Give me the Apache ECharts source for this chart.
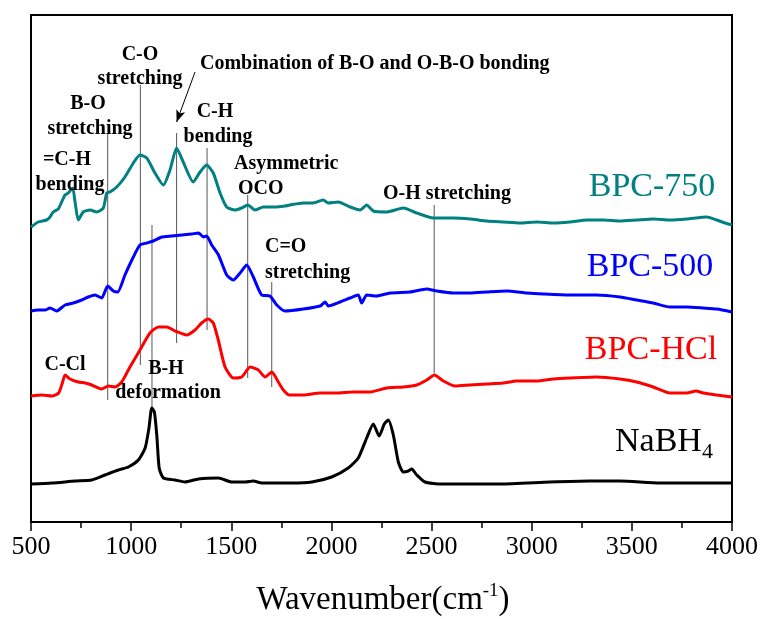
<!DOCTYPE html>
<html>
<head>
<meta charset="utf-8">
<script src="https://cdn.jsdelivr.net/npm/echarts@6/dist/echarts.min.js"></script>
<style>
  html, body { margin: 0; padding: 0; background: #fff; }
  #chart { width: 762px; height: 619px; }
</style>
</head>
<body>
<div id="chart"></div>
<script>
// wavenumber (cm-1), intensity (a.u., curves offset)
const bpc750 = [
  [500, 29.5], [536, 30.0], [578, 30.2], [595, 30.5], [611, 31.0], [636, 31.3], [653, 32.0],
  [670, 32.7], [686, 32.9], [708, 33.4], [720, 32.0], [736, 30.2], [761, 31.0], [795, 31.2],
  [828, 31.0], [861, 31.4], [878, 32.9], [894, 33.0], [928, 33.5], [969, 34.5], [1011, 35.9],
  [1044, 36.7], [1078, 36.4], [1119, 34.9], [1161, 33.7], [1194, 35.2], [1227, 37.4], [1260, 36.0],
  [1310, 34.0], [1344, 35.0], [1377, 35.7], [1410, 34.9], [1444, 32.9], [1477, 31.5], [1519, 31.2],
  [1552, 31.4], [1582, 31.7], [1618, 31.2], [1660, 31.5], [1718, 31.5], [1768, 31.6], [1793, 31.7],
  [1860, 31.9], [1910, 31.9], [1959, 32.2], [1984, 31.9], [2034, 32.0], [2093, 31.5], [2143, 31.2],
  [2176, 31.7], [2209, 31.1], [2276, 31.0], [2359, 31.4], [2426, 30.9], [2509, 30.4], [2609, 30.4],
  [2692, 30.3], [2775, 30.1], [2858, 30.0], [2942, 29.9], [3025, 30.0], [3108, 29.9], [3191, 30.0],
  [3275, 30.2], [3358, 30.2], [3441, 30.1], [3524, 30.2], [3607, 30.3], [3690, 30.2], [3774, 30.3],
  [3874, 30.5], [3924, 30.2], [3965, 29.9], [4000, 29.7]
];
const bpc500 = [
  [500, 21.1], [536, 21.2], [570, 21.2], [595, 21.4], [628, 21.1], [670, 21.7], [711, 21.9],
  [753, 22.2], [786, 22.5], [820, 22.7], [853, 22.4], [883, 23.6], [911, 23.1], [933, 23.0],
  [969, 24.7], [1011, 26.5], [1044, 27.7], [1078, 27.9], [1111, 28.1], [1153, 28.5], [1203, 28.6],
  [1253, 28.7], [1302, 28.8], [1336, 28.9], [1361, 28.5], [1377, 28.6], [1402, 27.7], [1436, 26.7],
  [1477, 24.7], [1510, 24.2], [1544, 24.9], [1577, 25.7], [1610, 24.5], [1652, 22.7], [1693, 22.6],
  [1727, 21.7], [1768, 21.1], [1860, 21.3], [1944, 21.6], [1969, 22.0], [1984, 21.6], [2043, 22.0],
  [2093, 22.4], [2134, 22.7], [2151, 21.9], [2176, 22.7], [2226, 22.6], [2293, 22.9], [2392, 23.0],
  [2476, 23.3], [2526, 23.1], [2609, 22.9], [2692, 22.9], [2775, 23.0], [2875, 23.1], [2975, 22.9],
  [3058, 22.8], [3191, 22.7], [3324, 22.7], [3441, 22.5], [3524, 22.2], [3607, 21.9], [3690, 21.5],
  [3774, 21.5], [3857, 21.4], [3924, 21.3], [4000, 21.0]
];
const bpcHCl = [
  [500, 12.6], [555, 12.7], [605, 12.6], [638, 12.9], [658, 14.0], [670, 14.7], [695, 14.3],
  [736, 14.0], [770, 13.9], [803, 13.7], [853, 13.3], [886, 13.6], [920, 13.5], [953, 14.0],
  [994, 15.5], [1044, 17.2], [1094, 18.9], [1136, 19.5], [1178, 19.5], [1219, 19.1], [1277, 18.7],
  [1319, 19.2], [1352, 19.9], [1385, 20.3], [1410, 19.9], [1435, 18.2], [1469, 15.5], [1510, 14.4],
  [1552, 14.5], [1594, 15.5], [1635, 15.2], [1669, 14.5], [1702, 15.0], [1735, 14.0], [1760, 13.2],
  [1790, 12.7], [1860, 12.7], [1943, 12.9], [2026, 12.9], [2109, 13.0], [2193, 13.0], [2276, 13.4],
  [2359, 13.5], [2426, 13.7], [2476, 14.2], [2514, 14.7], [2559, 14.1], [2617, 13.6], [2692, 13.7],
  [2775, 13.8], [2858, 13.9], [2925, 14.1], [3025, 14.1], [3108, 14.3], [3191, 14.4], [3324, 14.5],
  [3441, 14.3], [3524, 14.0], [3607, 13.5], [3690, 12.9], [3774, 12.9], [3820, 13.1], [3857, 12.9],
  [3924, 12.7], [4000, 12.5]
];
const nabh4 = [
  [500, 3.8], [605, 3.9], [720, 4.1], [803, 4.2], [869, 4.7], [936, 5.2], [986, 5.5], [1036, 6.2],
  [1070, 7.4], [1089, 9.4], [1103, 11.4], [1116, 11.0], [1128, 8.7], [1140, 5.4], [1161, 4.4],
  [1219, 4.2], [1269, 4.0], [1336, 4.3], [1436, 4.4], [1502, 4.0], [1569, 4.0], [1610, 4.1],
  [1652, 3.9], [1802, 3.9], [1902, 4.0], [2001, 4.5], [2084, 5.4], [2134, 6.4], [2176, 8.4],
  [2209, 9.8], [2238, 8.6], [2264, 9.8], [2284, 10.2], [2309, 8.7], [2334, 6.0], [2359, 5.0],
  [2384, 5.1], [2401, 5.3], [2426, 4.7], [2467, 4.0], [2551, 3.8], [2667, 3.8], [2842, 3.8],
  [3092, 4.0], [3291, 4.1], [3441, 4.1], [3640, 3.9], [3840, 3.9], [4000, 3.9]
];

// peak marker lines: [wavenumber, top, bottom]
const peakLines = [
  [883, 38.9, 12.2], [1046, 43.7, 15.7], [1104, 29.7, 11.5], [1227, 38.9, 17.9],
  [1379, 37.4, 19.2], [1582, 32.7, 14.4], [1702, 24.0, 13.5], [2513, 31.7, 14.9]
];
// arrow for "Combination of B-O and O-B-O bonding"
const arrowFrom = [1319, 45.0];
const arrowTo = [1227, 40.0];

const seriesNames = ['BPC-750', 'BPC-500', 'BPC-HCl', 'NaBH4'];
const seriesColors = ['#008080', '#0000ff', '#ff0000', '#000000'];
const seriesData = [bpc750, bpc500, bpcHCl, nabh4];

const serif = 'Liberation Serif, Times New Roman, serif';

const chart = echarts.init(document.getElementById('chart'));

const series = seriesData.map((d, i) => ({
  name: seriesNames[i],
  type: 'line',
  data: d,
  showSymbol: false,
  smooth: 0.2,
  lineStyle: { color: seriesColors[i], width: 3 },
  z: 3
}));

peakLines.forEach(p => {
  series.push({
    type: 'line',
    data: [[p[0], p[1]], [p[0], p[2]]],
    showSymbol: false,
    silent: true,
    lineStyle: { color: '#555', width: 1 },
    z: 2
  });
});

series.push({
  type: 'line',
  data: [],
  markLine: {
    silent: true,
    symbol: ['none', 'arrow'],
    symbolSize: [7, 12],
    label: { show: false },
    lineStyle: { color: '#000', width: 1, type: 'solid' },
    data: [[{ coord: arrowFrom }, { coord: arrowTo }]]
  }
});

function boldText(text, x, y, align) {
  return {
    type: 'text', x: x, y: y, z: 10,
    style: {
      text: text, fill: '#000', fontFamily: serif, fontWeight: 'bold', fontSize: 20,
      align: align || 'center', verticalAlign: 'middle'
    }
  };
}
function nameText(text, x, y, color) {
  return {
    type: 'text', x: x, y: y, z: 10,
    style: {
      text: text, fill: color, fontFamily: serif, fontSize: 34,
      align: 'center', verticalAlign: 'middle'
    }
  };
}

const option = {
  animation: false,
  backgroundColor: '#fff',
  grid: {
    left: 31, right: 30, top: 15, bottom: 97,
    show: true, borderColor: '#000', borderWidth: 2
  },
  xAxis: {
    type: 'value',
    min: 500, max: 4000, interval: 500,
    axisLine: { show: true, lineStyle: { color: '#000', width: 2 } },
    axisTick: { show: true, length: 9, lineStyle: { color: '#000', width: 1.5 } },
    minorTick: { show: true, splitNumber: 2, length: 6, lineStyle: { color: '#000', width: 1.5 } },
    splitLine: { show: false },
    axisLabel: {
      color: '#000', fontFamily: serif, fontSize: 26, margin: 12,
      formatter: v => String(v)
    }
  },
  yAxis: {
    type: 'value',
    min: 0, max: 50.7,
    axisLine: { show: true, lineStyle: { color: '#000', width: 2 } },
    axisTick: { show: false },
    axisLabel: { show: false },
    splitLine: { show: false }
  },
  series: series,
  graphic: [
    boldText('C-O', 140, 55),
    boldText('stretching', 140, 79),
    boldText('Combination of B-O and O-B-O bonding', 200, 64, 'left'),
    boldText('B-O', 88, 104),
    boldText('stretching', 90, 129),
    boldText('C-H', 215, 112),
    boldText('bending', 218, 137),
    boldText('=C-H', 67, 160),
    boldText('bending', 70, 185),
    boldText('Asymmetric', 234, 164, 'left'),
    boldText('OCO', 238, 189, 'left'),
    boldText('C=O', 265, 247, 'left'),
    boldText('stretching', 265, 273, 'left'),
    boldText('O-H stretching', 383, 194, 'left'),
    boldText('C-Cl', 65, 365),
    boldText('B-H', 166, 369),
    boldText('deformation', 168, 393),
    nameText('BPC-750', 652, 187, seriesColors[0]),
    nameText('BPC-500', 650, 267, seriesColors[1]),
    nameText('BPC-HCl', 651, 350, seriesColors[2]),
    {
      type: 'text', x: 615, y: 442, z: 10,
      style: {
        text: '{a|NaBH}{b|4}',
        align: 'left', verticalAlign: 'middle',
        rich: {
          a: { fontFamily: serif, fontSize: 34, fill: '#000', color: '#000' },
          b: { fontFamily: serif, fontSize: 22, fill: '#000', color: '#000', padding: [20, 0, 0, 0] }
        }
      }
    },
    {
      type: 'text', x: 383, y: 600, z: 10,
      style: {
        text: '{a|Wavenumber(cm}{b|-1}{a|)}',
        align: 'center', verticalAlign: 'middle',
        rich: {
          a: { fontFamily: serif, fontSize: 33, fill: '#000', color: '#000' },
          b: { fontFamily: serif, fontSize: 19, fill: '#000', color: '#000', padding: [0, 0, 18, 0] }
        }
      }
    }
  ]
};

chart.setOption(option);
</script>
</body>
</html>
